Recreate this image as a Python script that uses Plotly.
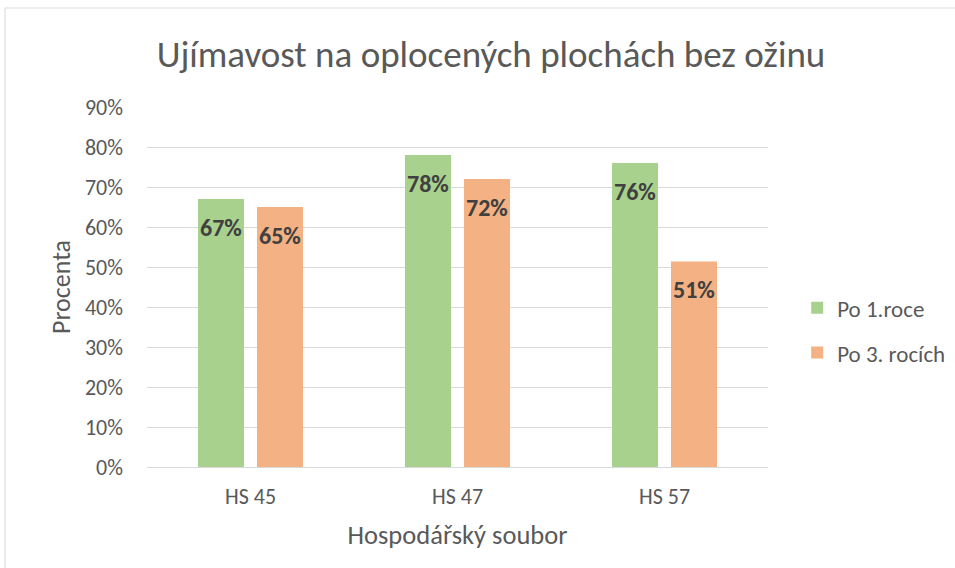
import plotly.graph_objects as go

categories = ["HS 45", "HS 47", "HS 57"]
po_1_roce = [0.67, 0.78, 0.76]
po_3_rocich = [0.65, 0.72, 0.514]
series_names = ["Po 1.roce", "Po 3. rocích"]
tick_vals = [0, 0.1, 0.2, 0.3, 0.4, 0.5, 0.6, 0.7, 0.8, 0.9]
tick_text = ["0%", "10%", "20%", "30%", "40%", "50%", "60%", "70%", "80%", "90%"]

FONT = "Carlito, Calibri, Lato, sans-serif"
TXT = "#595959"
COLORS = ["#A9D18E", "#F4B183"]

fig = go.Figure()
for name, vals, color, grp in [
    (series_names[0], po_1_roce, COLORS[0], "a"),
    (series_names[1], po_3_rocich, COLORS[1], "b"),
]:
    fig.add_trace(go.Bar(
        x=categories, y=vals, name=name, marker_color=color,
        marker_line_width=0, legendgroup=grp,
    ))

annotations = []
for vals, xs in [(po_1_roce, -29.5), (po_3_rocich, 29.5)]:
    for cat, v in zip(categories, vals):
        annotations.append(dict(
            x=cat, y=v, xref="x", yref="y", text=f"{v:.0%}", showarrow=False,
            xshift=xs, yshift=-28, xanchor="center", yanchor="middle",
            font=dict(family=FONT, size=24, color="#404040", weight="bold"),
        ))

fig.update_layout(
    width=955, height=568,
    margin=dict(l=147, r=187, t=107, b=101, autoexpand=False),
    paper_bgcolor="white", plot_bgcolor="white",
    barmode="group", bargap=0.43, bargroupgap=0.22,
    font=dict(family=FONT, color=TXT),
    title=dict(text="Ujímavost na oplocených plochách bez ožinu",
               x=491 / 955, xanchor="center", xref="container",
               y=0.905, yanchor="middle", yref="container",
               font=dict(size=37, color=TXT, family=FONT)),
    showlegend=True,
    legend=dict(x=1.047, xanchor="left", y=0.38, yanchor="middle",
                font=dict(size=23, color=TXT, family=FONT),
                tracegroupgap=12, traceorder="grouped",
                itemwidth=30),
    xaxis=dict(showgrid=False, showline=False, ticks="",
               tickfont=dict(size=22, color=TXT), ticklabelstandoff=14,
               title=dict(text="Hospodářský soubor", font=dict(size=26.5, color=TXT), standoff=16)),
    yaxis=dict(range=[0, 0.9], tickvals=tick_vals, ticktext=tick_text,
               showgrid=True, gridcolor="#D9D9D9", gridwidth=1,
               zeroline=True, zerolinecolor="#D9D9D9", zerolinewidth=1,
               showline=False, ticks="", ticklabelstandoff=23,
               tickfont=dict(size=22, color=TXT),
               title=dict(text="Procenta", font=dict(size=26, color=TXT), standoff=6)),
    annotations=annotations,
    shapes=[dict(type="rect", xref="paper", yref="paper",
                 x0=(5 - 147) / 621, x1=2, y0=-1, y1=(467 - 8) / 360,
                 line=dict(color="#D9D9D9", width=1), layer="below")],
)

fig.write_html("out.html", config={"displayModeBar": False},
               post_script="document.body.style.margin='0px';")
